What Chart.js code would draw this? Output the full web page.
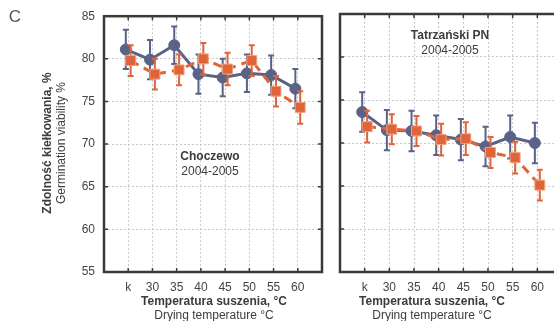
<!DOCTYPE html>
<html lang="pl">

<head>
    <meta charset="UTF-8">
    <title>Zdolność kiełkowania</title>
    <script src="https://cdn.jsdelivr.net/npm/chart.js"></script>
    <style>
        body {
            margin: 0;
            width: 554px;
            height: 321px;
            overflow: hidden;
            position: relative;
            background: #ffffff;
        }

        canvas {
            position: absolute;
            top: 0;
        }

        #choczewo {
            left: 0;
        }

        #tatry {
            left: 330px;
        }
    </style>
</head>

<body>
    <canvas id="choczewo" width="330" height="321"></canvas>
    <canvas id="tatry" width="240" height="321"></canvas>

    <script>
        // drying temperatures (k = control)
        const temps = ['k', '30', '35', '40', '45', '50', '55', '60'];
        const yTicks = [55, 60, 65, 70, 75, 80, 85];

        // Choczewo 2004-2005
        const chBlue = [81.1, 79.9, 81.6, 78.2, 77.8, 78.3, 78.1, 76.5];
        const chBlueErr = [2.3, 2.3, 2.2, 2.3, 2.2, 2.2, 2.3, 2.3];
        const chOrange = [79.8, 78.2, 78.7, 80.0, 78.8, 79.8, 76.2, 74.3];
        const chOrangeErr = [1.8, 1.8, 1.8, 1.85, 1.9, 1.8, 1.8, 1.9];

        // Tatrzański PN 2004-2005
        const tpBlue = [73.6, 71.5, 71.4, 70.9, 70.4, 69.6, 70.7, 70.0];
        const tpBlueErr = [2.3, 2.35, 2.35, 2.3, 2.4, 2.3, 2.5, 2.35];
        const tpOrange = [71.9, 71.6, 71.4, 70.4, 70.5, 68.9, 68.3, 65.1];
        const tpOrangeErr = [1.85, 1.75, 1.75, 1.85, 1.9, 1.8, 1.85, 1.8];

        const BLUE = '#5a6387';
        const ORANGE = '#e0643a';
        const FONT = "'Liberation Sans', Arial, sans-serif";
        const DODGE = 0.1;

        // vertical error bars with small caps, drawn under each dataset
        const errorBars = {
            id: 'errorBars',
            beforeDatasetDraw(chart, args) {
                const ds = chart.data.datasets[args.index];
                if (!ds.errors) return;
                const ctx = chart.ctx;
                const y = chart.scales.y;
                ctx.save();
                ctx.strokeStyle = ds.borderColor;
                ctx.lineWidth = 2;
                args.meta.data.forEach((pt, i) => {
                    const v = ds.data[i].y;
                    const top = y.getPixelForValue(v + ds.errors[i]);
                    const bot = y.getPixelForValue(v - ds.errors[i]);
                    ctx.beginPath();
                    ctx.moveTo(pt.x, top);
                    ctx.lineTo(pt.x, bot);
                    ctx.moveTo(pt.x - 3, top);
                    ctx.lineTo(pt.x + 3, top);
                    ctx.moveTo(pt.x - 3, bot);
                    ctx.lineTo(pt.x + 3, bot);
                    ctx.stroke();
                });
                ctx.restore();
            }
        };

        // box around the plot with inward tick marks on all sides
        const frame = {
            id: 'frame',
            afterDraw(chart) {
                const { ctx, chartArea: a, scales } = chart;
                ctx.save();
                ctx.strokeStyle = '#3a3a3a';
                ctx.lineWidth = 1.5;
                ctx.beginPath();
                scales.x.ticks.forEach(t => {
                    const px = scales.x.getPixelForValue(t.value);
                    ctx.moveTo(px, a.top);
                    ctx.lineTo(px, a.top + 4);
                    ctx.moveTo(px, a.bottom);
                    ctx.lineTo(px, a.bottom - 4);
                });
                scales.y.ticks.forEach(t => {
                    const py = scales.y.getPixelForValue(t.value);
                    ctx.moveTo(a.left, py);
                    ctx.lineTo(a.left + 4, py);
                    ctx.moveTo(a.right, py);
                    ctx.lineTo(a.right - 4, py);
                });
                ctx.stroke();
                ctx.lineWidth = 2.5;
                ctx.strokeRect(a.left, a.top, a.right - a.left, a.bottom - a.top);
                ctx.restore();
            }
        };

        // free text: axis titles and panel captions
        const texts = {
            id: 'texts',
            afterDraw(chart, args, opts) {
                const ctx = chart.ctx;
                ctx.save();
                ctx.textAlign = 'center';
                ctx.textBaseline = 'middle';
                (opts.items || []).forEach(t => {
                    ctx.save();
                    ctx.font = (t.bold ? 'bold ' : '') + (t.size || 12) + 'px ' + FONT;
                    ctx.fillStyle = t.color || '#3c3c3c';
                    ctx.translate(t.x, t.y);
                    if (t.rotate) ctx.rotate(-Math.PI / 2);
                    ctx.fillText(t.text, 0, 0);
                    ctx.restore();
                });
                ctx.restore();
            }
        };

        function series(values, errors, color, orange) {
            const shift = orange ? DODGE : -DODGE;
            return {
                data: values.map((v, i) => ({ x: i + shift, y: v })),
                errors,
                borderColor: color,
                backgroundColor: color,
                borderWidth: 3,
                borderDash: orange ? [9, 6] : [],
                pointStyle: orange ? 'rect' : 'circle',
                pointRadius: orange ? 7 : 5.5,
                pointBorderColor: orange ? '#f2a07a' : color,
                pointBorderWidth: 1,
                tension: 0
            };
        }

        function makeChart(id, blue, blueErr, orange, orangeErr, opt) {
            return new Chart(document.getElementById(id), {
                type: 'line',
                data: {
                    datasets: [
                        series(orange, orangeErr, ORANGE, true),
                        series(blue, blueErr, BLUE, false)
                    ]
                },
                options: {
                    responsive: false,
                    animation: false,
                    events: [],
                    layout: { padding: { left: 0, top: 14, right: opt.padRight, bottom: 0 } },
                    plugins: {
                        legend: { display: false },
                        tooltip: { enabled: false },
                        texts: { items: opt.texts }
                    },
                    scales: {
                        x: {
                            type: 'linear',
                            min: -1,
                            max: 8,
                            afterBuildTicks: s => { s.ticks = temps.map((_, i) => ({ value: i })); },
                            afterFit: s => { s.height = 49; },
                            grid: { color: '#c6c8d4', lineWidth: 1, drawTicks: false },
                            border: { display: false, dash: [2, 2] },
                            ticks: {
                                padding: 8,
                                color: '#444',
                                font: { family: FONT, size: 12 },
                                callback: v => temps[v] ?? ''
                            }
                        },
                        y: {
                            min: 55,
                            max: 85,
                            afterBuildTicks: s => { s.ticks = yTicks.map(v => ({ value: v })); },
                            afterFit: s => { s.width = opt.yWidth; },
                            grid: { color: '#c6c8d4', lineWidth: 1, drawTicks: false },
                            border: { display: false, dash: [2, 2] },
                            ticks: {
                                display: opt.yLabels,
                                padding: 9,
                                color: '#444',
                                font: { family: FONT, size: 12 }
                            }
                        }
                    }
                },
                plugins: [errorBars, frame, texts]
            });
        }

        makeChart('choczewo', chBlue, chBlueErr, chOrange, chOrangeErr, {
            padRight: 7,
            yWidth: 104,
            yLabels: true,
            texts: [
                { text: 'C', x: 15, y: 17, size: 17, color: '#555' },
                { text: 'Zdolność kiełkowania, %', x: 48, y: 143, bold: true, rotate: true },
                { text: 'Germination viability %', x: 62, y: 143, rotate: true },
                { text: 'Temperatura suszenia, °C', x: 214, y: 302, bold: true },
                { text: 'Drying temperature °C', x: 214, y: 316 },
                { text: 'Choczewo', x: 210, y: 157, bold: true },
                { text: '2004-2005', x: 210, y: 172 }
            ]
        });

        makeChart('tatry', tpBlue, tpBlueErr, tpOrange, tpOrangeErr, {
            padRight: 8,
            yWidth: 10,
            yLabels: false,
            texts: [
                { text: 'Temperatura suszenia, °C', x: 102, y: 302, bold: true },
                { text: 'Drying temperature °C', x: 102, y: 316 },
                { text: 'Tatrzański PN', x: 120, y: 36, bold: true },
                { text: '2004-2005', x: 120, y: 51 }
            ]
        });
    </script>
</body>

</html>
